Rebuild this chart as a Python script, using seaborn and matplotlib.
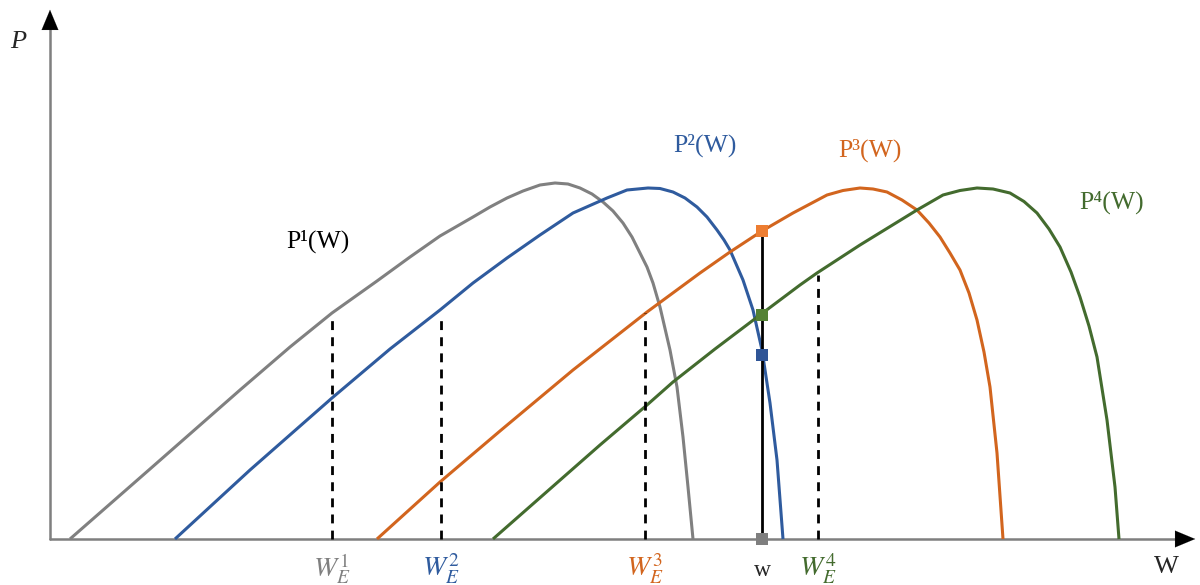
import numpy as np
import pandas as pd
import matplotlib
matplotlib.use("Agg")
import matplotlib.pyplot as plt
import seaborn as sns

p1_w = [70, 150, 240, 290, 332, 377, 410, 440, 473, 490, 507, 523, 540, 555, 568, 580, 592, 603, 613, 623, 632, 640, 647, 653, 660, 670, 677, 683, 688, 693]
p1_p = [0, 70, 149, 192, 226, 258, 282, 303, 322, 332, 341, 348, 354, 356, 355, 351, 345, 337, 328, 316, 302, 286, 272, 256, 232, 189, 152, 102, 52, 0]

p2_w = [175, 250, 332, 390, 440, 473, 507, 540, 573, 607, 627, 648, 660, 673, 685, 697, 707, 717, 724, 730, 743, 753, 762, 770, 777, 783]
p2_p = [0, 69, 141, 190, 229, 256, 281, 304, 326, 341, 349, 351, 350.5, 347, 341, 332, 322, 309, 299, 289, 259, 229, 189, 136, 79, 0]

p3_w = [377, 440, 500, 573, 647, 700, 730, 762, 793, 827, 843, 860, 873, 887, 902, 917, 929, 940, 950, 960, 969, 977, 984, 990, 997, 1003]
p3_p = [0, 57, 108, 169, 227, 266, 287, 308, 326, 344, 348.5, 351, 350, 347, 339, 329, 316, 302, 286, 269, 246, 219, 187, 152, 86, 0]

p4_w = [493, 600, 647, 673, 715, 760, 800, 817, 860, 917, 943, 960, 977, 993, 1010, 1024, 1037, 1049, 1060, 1071, 1080, 1089, 1097, 1107, 1115, 1119]
p4_p = [0, 94, 134, 157, 190, 224, 254, 266, 294, 329, 344, 348.5, 351, 350, 346, 337.5, 326, 310, 292, 267, 242, 213, 182, 119, 52, 0]

curve_names = ["P1", "P2", "P3", "P4"]
curve_colors = ["#808080", "#2F5B9E", "#D2651E", "#436B2E"]

# Equilibrium points W_E^i (dashed lines)
we_w = [332, 441, 645, 818]
we_p = [221, 219, 226, 264]
we_labels = [r"$W_E^1$", r"$W_E^2$", r"$W_E^3$", r"$W_E^4$"]

# Chosen w and the curve values there
w_value = 762
w_marker_p = [308, 224, 184, 0]
w_marker_colors = ["#ED7D31", "#548235", "#2F5597", "#7F7F7F"]

curve_labels = ["P\u00b9(W)", "P\u00b2(W)", "P\u00b3(W)", "P\u2074(W)"]
curve_label_pos = [(318, 298), (705, 394), (870, 389), (1112, 337)]
curve_label_colors = ["#000000", "#2F5B9E", "#D2651E", "#436B2E"]

sns.set_theme(style="white")
plt.rcParams["mathtext.fontset"] = "stix"

fig = plt.figure(figsize=(12, 5.85), dpi=100)
ax = fig.add_axes([0, 0, 1, 1])

rows = []
for name, ws, ps in zip(curve_names, [p1_w, p2_w, p3_w, p4_w], [p1_p, p2_p, p3_p, p4_p]):
    for i, (w, p) in enumerate(zip(ws, ps)):
        rows.append({"curve": name, "W": w, "P": p, "order": i})
df = pd.DataFrame(rows)

sns.lineplot(data=df, x="W", y="P", hue="curve", palette=dict(zip(curve_names, curve_colors)),
             sort=False, estimator=None, units="curve", linewidth=2.2, legend=False, ax=ax,
             solid_joinstyle="round", solid_capstyle="butt")

# dashed equilibrium lines
for w, p in zip(we_w, we_p):
    ax.plot([w, w], [0, p], color="black", lw=2, linestyle=(0, (3.2, 2.6)), zorder=2)

# vertical black line at w
ax.plot([w_value, w_value], [0, w_marker_p[0]], color="black", lw=2, zorder=3)
mk = pd.DataFrame({"W": [w_value] * 4, "P": w_marker_p, "c": list(range(4))})
sns.scatterplot(data=mk, x="W", y="P", hue="c", palette=dict(zip(range(4), w_marker_colors)),
                marker="s", s=75, edgecolor="none", legend=False, ax=ax, zorder=5)

# axes arrows
axis_col = "#7F7F7F"
ax.plot([50, 1180], [0, 0], color=axis_col, lw=1.8, zorder=1)
ax.plot([50, 50], [0, 515], color=axis_col, lw=1.8, zorder=1)
ax.annotate("", xy=(1198, 0), xytext=(1175, 0),
            arrowprops=dict(arrowstyle="-|>,head_length=1.2,head_width=0.5", color="black", lw=0.1))
ax.annotate("", xy=(50, 532), xytext=(50, 510),
            arrowprops=dict(arrowstyle="-|>,head_length=1.2,head_width=0.5", color="black", lw=0.1))

serif = ["Liberation Serif", "DejaVu Serif"]
ax.text(18, 497, "P", fontsize=19, family=serif, style="italic", ha="center", va="center")
ax.text(1166, -28, "W", fontsize=19, family=serif, ha="center", va="center")
ax.text(w_value, -31, "w", fontsize=17, family=serif, ha="center", va="center")

for lbl, (x, y), c in zip(curve_labels, curve_label_pos, curve_label_colors):
    ax.text(x, y, lbl, fontsize=18.5, family=serif, color=c, ha="center", va="center")

for w, lbl, c in zip(we_w, we_labels, curve_colors):
    ax.text(w, -30, lbl, fontsize=20, color=c, ha="center", va="center")

ax.set_xlim(0, 1200)
ax.set_ylim(-46, 539)
ax.axis("off")

fig.savefig("out.png", dpi=100)
